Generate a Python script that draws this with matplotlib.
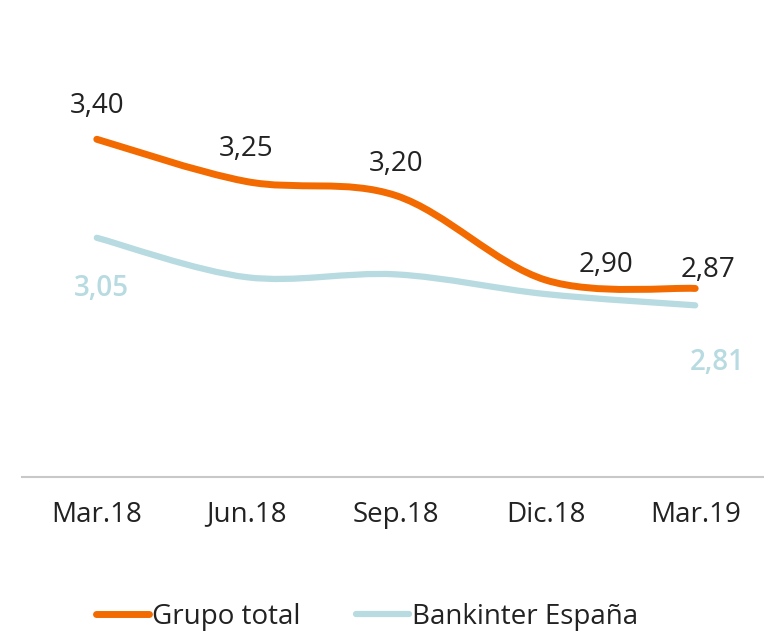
import numpy as np
import matplotlib
matplotlib.use('Agg')
from matplotlib import pyplot as plt
from matplotlib.path import Path
from matplotlib.patches import PathPatch
from matplotlib.lines import Line2D

# data
periodos = ['Mar.18', 'Jun.18', 'Sep.18', 'Dic.18', 'Mar.19']
grupo_total = [3.40, 3.25, 3.20, 2.90, 2.87]
bankinter_espana = [3.05, 2.91, 2.92, 2.85, 2.81]
etiquetas_grupo = ['3,40', '3,25', '3,20', '2,90', '2,87']
etiquetas_espana = {0: '3,05', 4: '2,81'}

naranja = '#f26a00'
azul = '#b7dbe0'
texto = '#222222'

plt.rcParams['font.family'] = ['Open Sans', 'DejaVu Sans']
FS = 20


def smooth_path(x, y):
    # excel-like smoothed line: cubic bezier through every point
    x = np.asarray(x, float)
    y = np.asarray(y, float)
    n = len(x)
    verts = [(x[0], y[0])]
    codes = [Path.MOVETO]
    for i in range(n - 1):
        p0 = i - 1 if i > 0 else i
        p3 = i + 2 if i + 2 < n else i + 1
        c1 = (x[i] + (x[i + 1] - x[p0]) / 6, y[i] + (y[i + 1] - y[p0]) / 6)
        c2 = (x[i + 1] - (x[p3] - x[i]) / 6, y[i + 1] - (y[p3] - y[i]) / 6)
        verts += [c1, c2, (x[i + 1], y[i + 1])]
        codes += [Path.CURVE4] * 3
    return Path(verts, codes)


fig = plt.figure(figsize=(7.64, 6.34), dpi=100)
W, H = 764, 634
# axes: x -0.5..4.5 -> 22..770 px ; y 2.2..3.6 -> 477..83 px
ax = fig.add_axes([22 / W, 1 - 477 / H, 748 / W, (477 - 83) / H])
ax.set_xlim(-0.5, 4.5)
ax.set_ylim(2.2, 3.6)

xs = np.arange(len(periodos))
ax.add_patch(PathPatch(smooth_path(xs, bankinter_espana), fill=False,
                       edgecolor=azul, lw=4.5, capstyle='round', clip_on=False))
ax.add_patch(PathPatch(smooth_path(xs, grupo_total), fill=False,
                       edgecolor=naranja, lw=5, capstyle='round', clip_on=False))

# value labels (pixel offsets)
offs_grupo = [(0, 33), (0, 33), (0, 32), (60, 15), (13, 18)]
for i, (v, lab) in enumerate(zip(grupo_total, etiquetas_grupo)):
    dx, dy = offs_grupo[i]
    ax.annotate(lab, (xs[i], v), xytext=(dx * 0.72, dy * 0.72),
                textcoords='offset points', ha='center', va='center',
                fontsize=FS, color=texto, annotation_clip=False)

offs_espana = {0: (5, -51), 4: (22, -57)}
for i, lab in etiquetas_espana.items():
    dx, dy = offs_espana[i]
    ax.annotate(lab, (xs[i], bankinter_espana[i]), xytext=(dx * 0.72, dy * 0.72),
                textcoords='offset points', ha='center', va='center',
                fontsize=FS, color=azul, fontweight='semibold', annotation_clip=False)

for s in ['top', 'right', 'left']:
    ax.spines[s].set_visible(False)
ax.spines['bottom'].set_color('#c8c8c8')
ax.spines['bottom'].set_linewidth(1.5)
ax.set_yticks([])
ax.set_xticks(xs)
ax.set_xticklabels(periodos, fontsize=FS, color=texto)
ax.tick_params(axis='x', length=0, pad=17)

handles = [Line2D([], [], color=naranja, lw=5, solid_capstyle='round'),
           Line2D([], [], color=azul, lw=4.5, solid_capstyle='round')]
fig.legend(handles, ['Grupo total', 'Bankinter España'], loc='center',
           bbox_to_anchor=(367 / W, 1 - 617 / H), ncol=2, frameon=False,
           fontsize=FS, handlelength=1.9, handletextpad=0.1, columnspacing=2.0,
           labelcolor=texto)

fig.savefig('out.png', dpi=100)
